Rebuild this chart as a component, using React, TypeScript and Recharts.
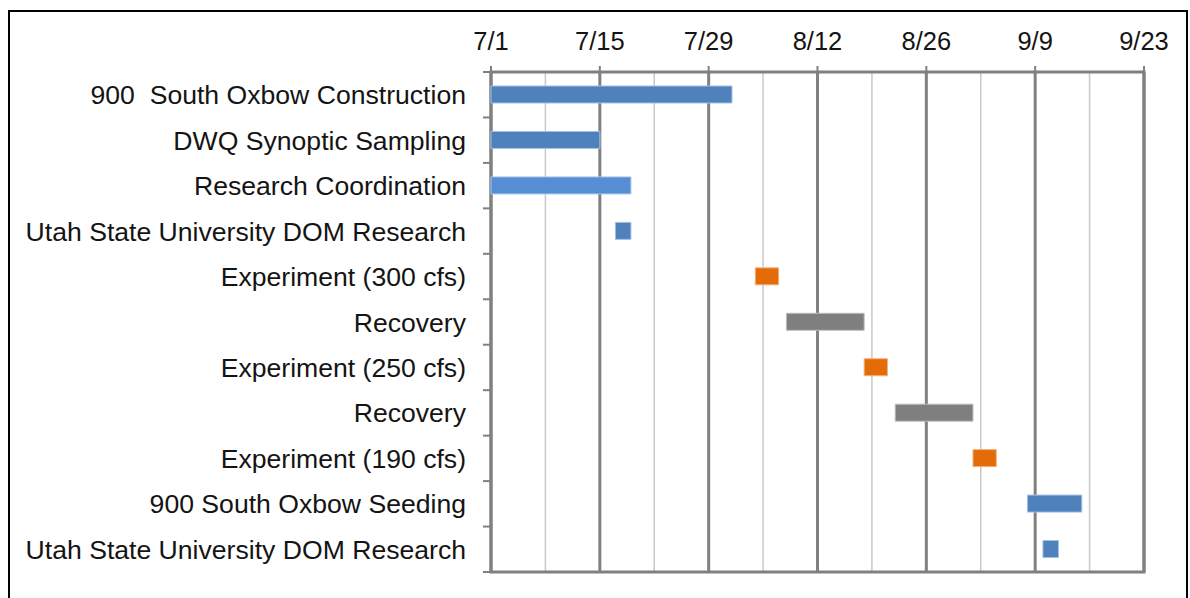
import { Bar, BarChart, CartesianGrid, Cell, ReferenceArea, XAxis, YAxis } from "recharts";

const tasks = [
  "900  South Oxbow Construction",
  "DWQ Synoptic Sampling",
  "Research Coordination",
  "Utah State University DOM Research",
  "Experiment (300 cfs)",
  "Recovery",
  "Experiment (250 cfs)",
  "Recovery",
  "Experiment (190 cfs)",
  "900 South Oxbow Seeding",
  "Utah State University DOM Research",
];
// days after 7/1
const startDays = [0, 0, 0, 16, 34, 38, 48, 52, 62, 69, 71];
const durations = [31, 14, 18, 2, 3, 10, 3, 10, 3, 7, 2];
const phases = ["blue", "blue", "light", "blue", "orange", "gray", "orange", "gray", "orange", "blue", "blue"];

const tickDays = [0, 14, 28, 42, 56, 70, 84];
const tickLabels = ["7/1", "7/15", "7/29", "8/12", "8/26", "9/9", "9/23"];
const minorDays = [7, 21, 35, 49, 63, 77];

const fills: Record<string, string> = { blue: "#4f81bd", light: "#558ed5", orange: "#e36c09", gray: "#7f7f7f" };
const edges: Record<string, string> = { blue: "#a7c0e4", light: "#a7c4ec", orange: "#f5b27a", gray: "#bcbcbc" };

const data = tasks.map((name, i) => ({ name, start: startDays[i], duration: durations[i], phase: phases[i] }));

const PLOT_H = 500;
const FONT = "'Liberation Sans', Arial, sans-serif";
const AXIS = "#808080";

function CategoryTick(props: any) {
  const { x, y, payload, index } = props;
  const band = PLOT_H / tasks.length;
  return (
    <g>
      <text x={x} y={y} dy="0.36em" textAnchor="end" fontSize={26.6} fill="#141414" fontFamily={FONT} style={{ whiteSpace: "pre" }}>
        {payload.value}
      </text>
      <line x1={x + 17} x2={x + 25} y1={y - band / 2} y2={y - band / 2} stroke={AXIS} strokeWidth={2} />
      {index === tasks.length - 1 && (
        <line x1={x + 17} x2={x + 25} y1={y + band / 2} y2={y + band / 2} stroke={AXIS} strokeWidth={2} />
      )}
    </g>
  );
}

export default function App() {
  return (
    <div
      style={{
        position: "fixed",
        left: 8,
        top: 10,
        width: 1180,
        height: 600,
        boxSizing: "border-box",
        border: "2px solid #000",
        background: "#fff",
        fontFamily: FONT,
      }}
    >
      <BarChart
        width={1176}
        height={586}
        data={data}
        layout="vertical"
        barSize={17}
        margin={{ top: 0, right: 42, bottom: 26, left: 0 }}
      >
        <CartesianGrid horizontal={false} verticalValues={minorDays} stroke="#c8c8c8" strokeWidth={1.5} />
        <CartesianGrid horizontal={false} verticalValues={tickDays} stroke={AXIS} strokeWidth={3} />
        <XAxis
          type="number"
          orientation="top"
          domain={[0, 84]}
          ticks={tickDays}
          height={60}
          tickSize={6}
          tickMargin={16}
          tickFormatter={(v: number) => tickLabels[tickDays.indexOf(v)]}
          tick={{ fontSize: 25.5, fill: "#141414", fontFamily: FONT }}
          tickLine={{ stroke: AXIS, strokeWidth: 2 }}
          axisLine={false}
        />
        <YAxis
          type="category"
          dataKey="name"
          width={481}
          tickSize={8}
          tickMargin={17}
          tickLine={false}
          axisLine={false}
          interval={0}
          tick={<CategoryTick />}
        />
        <ReferenceArea x1={0} x2={84} fill="none" stroke={AXIS} strokeWidth={3} fillOpacity={0} />
        <Bar dataKey="start" stackId="g" fill="transparent" isAnimationActive={false} />
        <Bar dataKey="duration" stackId="g" isAnimationActive={false}>
          {data.map((d, i) => (
            <Cell key={`c${i}`} fill={fills[d.phase]} stroke={edges[d.phase]} strokeWidth={1} />
          ))}
        </Bar>
      </BarChart>
    </div>
  );
}
